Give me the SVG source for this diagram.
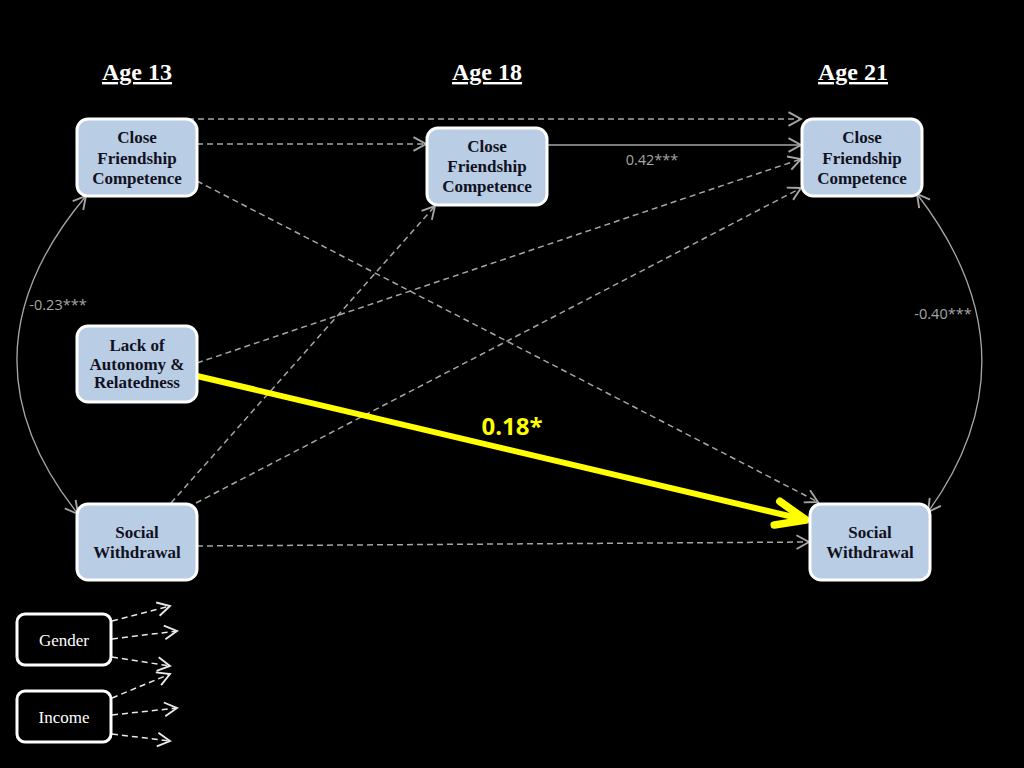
<svg xmlns="http://www.w3.org/2000/svg" width="1024" height="768" viewBox="0 0 1024 768">
<style>
.node rect{fill:#b9cde4;stroke:#ffffff;stroke-width:3}
.node text{font-family:"Liberation Serif",serif;font-weight:bold;font-size:17px;fill:#111122;text-anchor:middle}
.ctl rect{fill:#000;stroke:#ffffff;stroke-width:3}
.ctl text{font-family:"Liberation Serif",serif;font-size:17px;fill:#ffffff;text-anchor:middle}
.hdr{font-family:"Liberation Serif",serif;font-weight:bold;font-size:24px;fill:#ffffff;text-anchor:middle;text-decoration:underline}
.dash{fill:none;stroke:#a6a6a6;stroke-width:1.5;stroke-dasharray:6 4;marker-end:url(#arr)}
.solid{fill:none;stroke:#a6a6a6;stroke-width:1.5;marker-end:url(#arr)}
.curve{fill:none;stroke:#a6a6a6;stroke-width:1.3;marker-start:url(#arrS);marker-end:url(#arr)}
.wdash{fill:none;stroke:#e8e8e8;stroke-width:1.5;stroke-dasharray:6 4;marker-end:url(#arrW)}
.lbl{font-family:"Open Sans","Liberation Sans",sans-serif;font-size:14.5px;fill:#a6a6a6;text-anchor:middle}
</style>
<defs>
<marker id="arr" markerUnits="userSpaceOnUse" markerWidth="20" markerHeight="20" refX="0" refY="0" viewBox="-12 -8 14 16" orient="auto">
<path d="M-10,-5.5 L0,0 L-10,5.5" fill="none" stroke="#a6a6a6" stroke-width="1.5"/>
</marker>
<marker id="arrS" markerUnits="userSpaceOnUse" markerWidth="20" markerHeight="20" refX="0" refY="0" viewBox="-12 -8 14 16" orient="auto-start-reverse">
<path d="M-10,-5.5 L0,0 L-10,5.5" fill="none" stroke="#a6a6a6" stroke-width="1.5"/>
</marker>
<marker id="arrW" markerUnits="userSpaceOnUse" markerWidth="20" markerHeight="20" refX="0" refY="0" viewBox="-12 -8 14 16" orient="auto">
<path d="M-10,-5.5 L0,0 L-10,5.5" fill="none" stroke="#e8e8e8" stroke-width="1.5"/>
</marker>
<marker id="yarr" markerUnits="userSpaceOnUse" markerWidth="44" markerHeight="40" refX="0" refY="0" viewBox="-34 -18 40 36" orient="auto">
<path d="M-27,-11 L0,0 L-27,11" fill="none" stroke="#ffff00" stroke-width="7" stroke-linecap="round" stroke-linejoin="round"/>
</marker>
</defs>
<rect width="1024" height="768" fill="#000"/>
<text class="hdr" x="137" y="80">Age 13</text>
<text class="hdr" x="487" y="80">Age 18</text>
<text class="hdr" x="853" y="80">Age 21</text>
<g id="connectors">
<line class="dash" x1="188" y1="119" x2="801" y2="119"/>
<line class="dash" x1="197" y1="144" x2="426" y2="144"/>
<line class="solid" x1="547" y1="145" x2="801" y2="145"/>
<line class="dash" x1="197" y1="181" x2="818" y2="502"/>
<line class="dash" x1="197" y1="363" x2="801" y2="159"/>
<line class="dash" x1="171" y1="503" x2="435" y2="206"/>
<line class="dash" x1="196" y1="503" x2="801" y2="188"/>
<line class="dash" x1="197" y1="546" x2="809" y2="542"/>
<path class="curve" d="M86,196 Q-48,355 78,514"/>
<path class="curve" d="M917,194 Q1041,355 928,512"/>
<line x1="197" y1="376" x2="806" y2="520" stroke="#ffff00" stroke-width="6" marker-end="url(#yarr)"/>
<line class="wdash" x1="112" y1="621" x2="170" y2="606"/>
<line class="wdash" x1="112" y1="639" x2="177" y2="631"/>
<line class="wdash" x1="112" y1="657" x2="170" y2="666"/>
<line class="wdash" x1="112" y1="698" x2="170" y2="674"/>
<line class="wdash" x1="112" y1="715" x2="177" y2="708"/>
<line class="wdash" x1="112" y1="734" x2="170" y2="741"/>
<text class="lbl" x="652" y="165">0.42***</text>
<text class="lbl" x="58" y="310">-0.23***</text>
<text class="lbl" x="943" y="319">-0.40***</text>
<text x="512" y="435" font-family="'Open Sans','Liberation Sans',sans-serif" font-weight="bold" font-size="24" fill="#ffff00" text-anchor="middle">0.18*</text>
</g>
<g id="cfc13" class="node"><rect x="77" y="119" width="120" height="77" rx="11"/><text x="137" y="143">Close</text><text x="137" y="164">Friendship</text><text x="137" y="184">Competence</text></g>
<g id="cfc18" class="node"><rect x="427" y="128" width="120" height="77" rx="11"/><text x="487" y="152">Close</text><text x="487" y="172">Friendship</text><text x="487" y="192">Competence</text></g>
<g id="cfc21" class="node"><rect x="802" y="119" width="120" height="77" rx="11"/><text x="862" y="143">Close</text><text x="862" y="164">Friendship</text><text x="862" y="184">Competence</text></g>
<g id="lack13" class="node"><rect x="77" y="326" width="120" height="76" rx="11"/><text x="137" y="351">Lack of</text><text x="137" y="370">Autonomy &amp;</text><text x="137" y="388">Relatedness</text></g>
<g id="sw13" class="node"><rect x="77" y="504" width="120" height="76" rx="11"/><text x="137" y="538">Social</text><text x="137" y="558">Withdrawal</text></g>
<g id="sw21" class="node"><rect x="810" y="504" width="120" height="76" rx="11"/><text x="870" y="538">Social</text><text x="870" y="558">Withdrawal</text></g>
<g id="gender" class="ctl"><rect x="17" y="614" width="94" height="51" rx="8"/><text x="64" y="646">Gender</text></g>
<g id="income" class="ctl"><rect x="17" y="691" width="94" height="51" rx="8"/><text x="64" y="723">Income</text></g>
</svg>
